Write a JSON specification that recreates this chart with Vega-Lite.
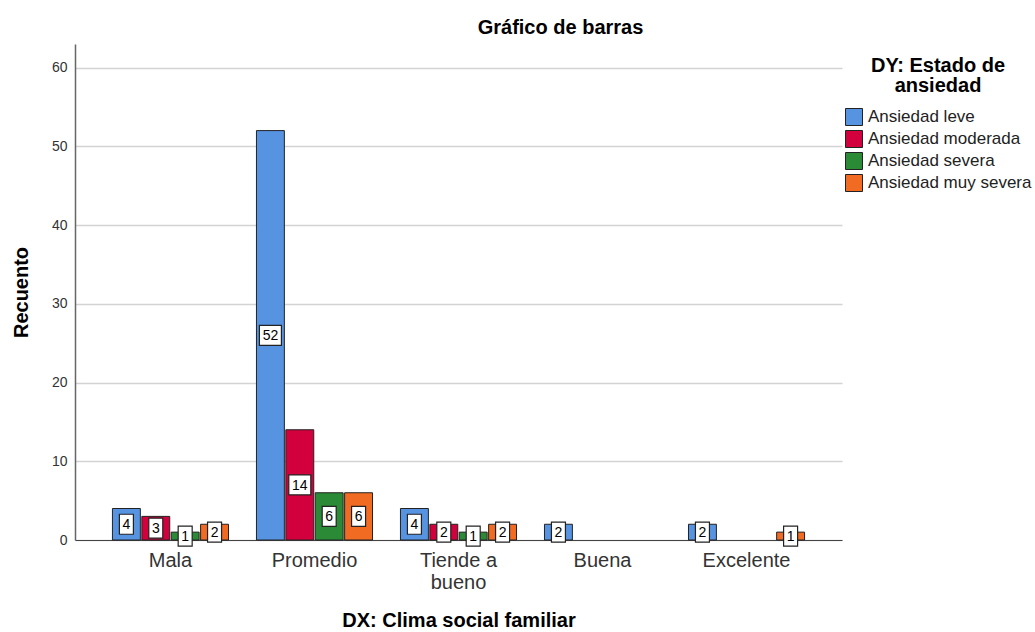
{
  "$schema": "https://vega.github.io/schema/vega-lite/v6.json",
  "width": 767,
  "height": 496,
  "autosize": {"type": "none"},
  "padding": {"left": 75, "top": 44, "right": 193, "bottom": 92},
  "background": "white",
  "config": {
    "font": "Liberation Sans",
    "view": {"stroke": null}
  },
  "title": {
    "text": "Gráfico de barras",
    "fontSize": 20,
    "fontWeight": "bold",
    "color": "#000",
    "anchor": "middle",
    "dx": 102,
    "offset": 6
  },
  "data": {
    "values": [
      {"clima": "Mala", "estado": "Ansiedad leve", "n": 4},
      {"clima": "Mala", "estado": "Ansiedad moderada", "n": 3},
      {"clima": "Mala", "estado": "Ansiedad severa", "n": 1},
      {"clima": "Mala", "estado": "Ansiedad muy severa", "n": 2},
      {"clima": "Promedio", "estado": "Ansiedad leve", "n": 52},
      {"clima": "Promedio", "estado": "Ansiedad moderada", "n": 14},
      {"clima": "Promedio", "estado": "Ansiedad severa", "n": 6},
      {"clima": "Promedio", "estado": "Ansiedad muy severa", "n": 6},
      {"clima": "Tiende a bueno", "estado": "Ansiedad leve", "n": 4},
      {"clima": "Tiende a bueno", "estado": "Ansiedad moderada", "n": 2},
      {"clima": "Tiende a bueno", "estado": "Ansiedad severa", "n": 1},
      {"clima": "Tiende a bueno", "estado": "Ansiedad muy severa", "n": 2},
      {"clima": "Buena", "estado": "Ansiedad leve", "n": 2},
      {"clima": "Excelente", "estado": "Ansiedad leve", "n": 2},
      {"clima": "Excelente", "estado": "Ansiedad muy severa", "n": 1}
    ]
  },
  "encoding": {
    "x": {
      "field": "clima",
      "type": "nominal",
      "sort": null,
      "scale": {
        "domain": ["Mala", "Promedio", "Tiende a bueno", "Buena", "Excelente"],
        "paddingInner": 0.194,
        "paddingOuter": 0.26
      },
      "axis": {
        "title": "DX: Clima social familiar",
        "titleFontSize": 20,
        "titleFontWeight": "bold",
        "titleColor": "#000",
        "titlePadding": 18,
        "labelAngle": 0,
        "labelFontSize": 20,
        "labelColor": "#333",
        "labelPadding": 10,
        "labelExpr": "datum.label == 'Tiende a bueno' ? ['Tiende a', 'bueno'] : datum.label",
        "ticks": false,
        "domainColor": "#444",
        "domainWidth": 1
      }
    },
    "xOffset": {
      "field": "estado",
      "type": "nominal",
      "scale": {
        "domain": ["Ansiedad leve", "Ansiedad moderada", "Ansiedad severa", "Ansiedad muy severa"],
        "paddingInner": 0.05
      }
    }
  },
  "layer": [
    {
      "mark": {"type": "bar", "stroke": "#222", "strokeWidth": 1},
      "encoding": {
        "y": {
          "field": "n",
          "type": "quantitative",
          "scale": {"domain": [0, 63], "nice": false},
          "axis": {
            "title": "Recuento",
            "titleFontSize": 20,
            "titleFontWeight": "bold",
            "titleColor": "#000",
            "titlePadding": 20,
            "values": [0, 10, 20, 30, 40, 50, 60],
            "labelFontSize": 14,
            "labelColor": "#333",
            "labelPadding": 8,
            "ticks": false,
            "grid": true,
            "gridColor": "#d3d3d3",
            "gridWidth": 1.5,
            "domainColor": "#666",
            "domainWidth": 1.5
          }
        },
        "color": {
          "field": "estado",
          "type": "nominal",
          "scale": {
            "domain": ["Ansiedad leve", "Ansiedad moderada", "Ansiedad severa", "Ansiedad muy severa"],
            "range": ["#5694e2", "#d2003c", "#2b8a35", "#f26b22"]
          },
          "legend": {
            "title": ["DY: Estado de", "ansiedad"],
            "titleFontSize": 20,
            "titleFontWeight": "bold",
            "titleColor": "#000",
            "titleAlign": "center",
            "titleAnchor": "middle",
            "titleLineHeight": 20,
            "titlePadding": 12,
            "orient": "none",
            "legendX": 770,
            "legendY": 12,
            "padding": 0,
            "symbolType": "square",
            "symbolSize": 289,
            "symbolStrokeColor": "#222",
            "symbolStrokeWidth": 1,
            "symbolOpacity": 1,
            "labelFontSize": 17,
            "labelColor": "#222",
            "labelLimit": 300,
            "labelOffset": 5,
            "rowPadding": 0
          }
        }
      }
    },
    {
      "transform": [{"filter": "datum.n < 10"}],
      "mark": {
        "type": "point",
        "shape": "M-0.7,-1H0.7V1H-0.7Z",
        "size": 400,
        "filled": true,
        "fill": "white",
        "stroke": "#222",
        "strokeWidth": 1.2,
        "opacity": 1
      },
      "encoding": {
        "y": {
          "field": "n",
          "type": "quantitative",
          "scale": {"domain": [0, 126], "nice": false},
          "axis": null
        }
      }
    },
    {
      "transform": [{"filter": "datum.n >= 10"}],
      "mark": {
        "type": "point",
        "shape": "M-1.1,-1H1.1V1H-1.1Z",
        "size": 400,
        "filled": true,
        "fill": "white",
        "stroke": "#222",
        "strokeWidth": 1.2,
        "opacity": 1
      },
      "encoding": {
        "y": {
          "field": "n",
          "type": "quantitative",
          "scale": {"domain": [0, 126], "nice": false},
          "axis": null
        }
      }
    },
    {
      "mark": {
        "type": "text",
        "fontSize": 14,
        "color": "#000",
        "align": "center",
        "baseline": "middle",
        "dy": 1
      },
      "encoding": {
        "y": {
          "field": "n",
          "type": "quantitative",
          "scale": {"domain": [0, 126], "nice": false},
          "axis": null
        },
        "text": {"field": "n", "type": "quantitative"}
      }
    }
  ],
  "resolve": {"scale": {"y": "independent"}}
}
